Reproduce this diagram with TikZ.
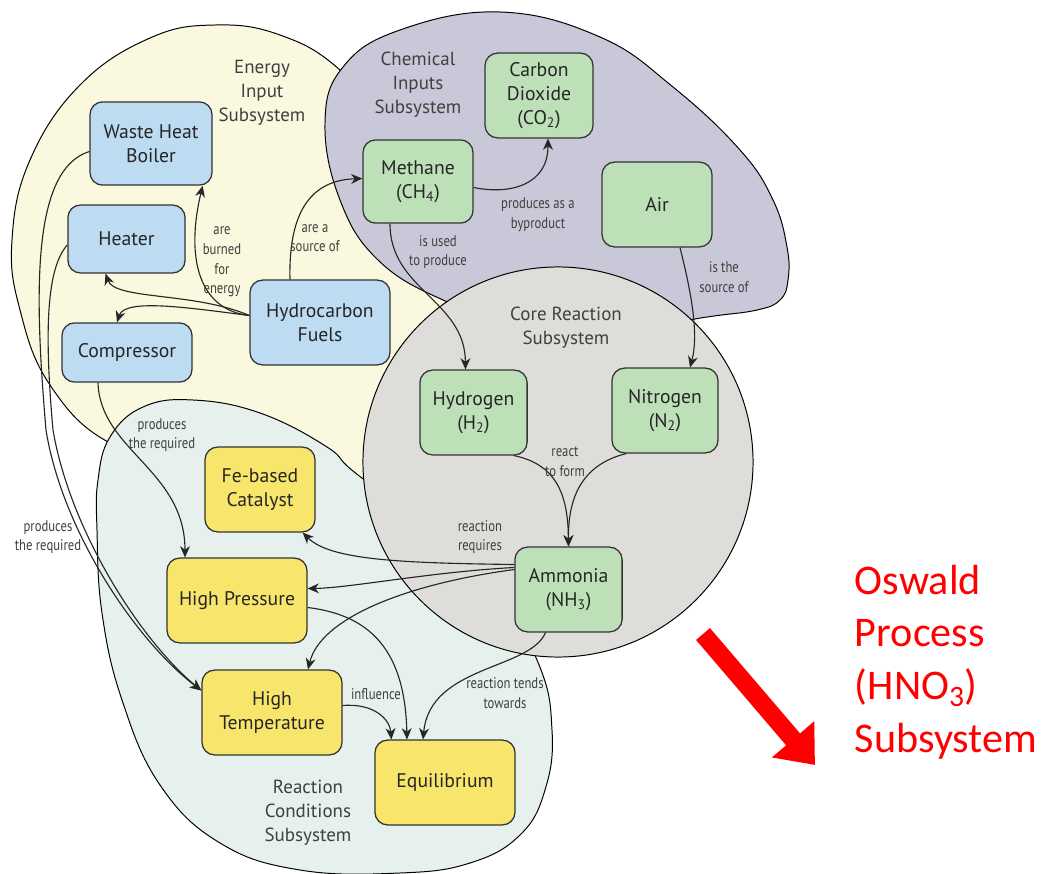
\documentclass[tikz,border=0pt]{standalone}
\usepackage{fontspec}
\setmainfont{PT Sans}
\newfontfamily\linkfont[FakeStretch=0.82]{PT Sans}
\newfontfamily\notefont{Carlito}
\usetikzlibrary{arrows.meta}

\definecolor{energybg}{HTML}{FAF8DE}
\definecolor{chembg}{HTML}{C9C8D8}
\definecolor{corebg}{HTML}{DEDDDA}
\definecolor{condbg}{HTML}{E6F0EC}
\definecolor{bluebox}{HTML}{BDDCF2}
\definecolor{greenbox}{HTML}{BEE0B9}
\definecolor{yellowbox}{HTML}{F8E66C}

\begin{document}
\begin{tikzpicture}[x=0.025cm, y=-0.025cm,
	every node/.style={font=\fontsize{14}{17}\selectfont, text=black!85},
	box/.style={draw=black!80, line width=0.9pt, rounded corners=9pt, align=center, inner sep=0pt, minimum height=2.12cm},
	energy/.style={box, fill=bluebox},
	chem/.style={box, fill=greenbox},
	cond/.style={box, fill=yellowbox},
	link/.style={->, line width=0.8pt, black!85},
	>={Stealth[length=8pt,width=7pt,inset=2.5pt]},
	lbl/.style={font=\linkfont\fontsize{11}{14}\selectfont, align=center, text=black!75},
	title/.style={font=\fontsize{13.5}{17}\selectfont, align=center, text=black!75},
	region/.style={draw=black, line width=0.7pt}]
	\useasboundingbox (0,0) rectangle (1047,874);

	% subsystem regions, back to front
	\draw[region, fill=energybg] plot[smooth cycle, tension=0.7] coordinates {(110,443) (50,385) (20,310) (12,240) (30,160) (80,85) (150,38) (215,25) (280,35) (340,70) (400,140) (455,230) (460,330) (420,450) (370,495) (300,480) (200,465)};
	\draw[region, fill=chembg] plot[smooth cycle, tension=0.7] coordinates {(443,300) (378,260) (340,200) (325,123) (343,67) (400,30) (500,12) (600,37) (673,87) (740,150) (773,200) (787,247) (788,280) (780,300) (757,310) (707,317) (620,330) (520,325)};
	\draw[region, fill=condbg] plot[smooth cycle, tension=0.7] coordinates {(362,478) (327,447) (260,413) (193,400) (143,407) (110,437) (98,480) (97,530) (102,613) (122,700) (160,785) (220,843) (300,870) (400,873) (470,863) (520,835) (545,790) (552,730) (537,660) (480,560)};
	\draw[region, fill=corebg] (558,462) circle [radius=4.875cm];

	\node[title] (entitle) at (262,93) {Energy\\Input\\Subsystem};
	\node[title] (chtitle) at (418,85) {Chemical\\Inputs\\Subsystem};
	\node[title] (cotitle) at (566,328) {Core Reaction\\Subsystem};
	\node[title] (rctitle) at (308,813) {Reaction\\Conditions\\Subsystem};

	% energy input
	\node[energy, minimum width=3.05cm, minimum height=2.08cm] (wh) at (151,143.5) {Waste Heat\\Boiler};
	\node[energy, minimum width=2.93cm, minimum height=1.7cm] (heat) at (126.5,239) {Heater};
	\node[energy, minimum width=3.25cm, minimum height=1.48cm] (comp) at (127,352.5) {Compressor};
	\node[energy, minimum width=3.5cm] (hf) at (320,322.5) {Hydrocarbon\\Fuels};

	% chemical inputs and core reaction
	\node[chem, minimum width=2.75cm, minimum height=2.08cm] (meth) at (418,181.5) {Methane\\(CH\textsubscript{4})};
	\node[chem, minimum width=2.7cm] (co2) at (539,95.5) {Carbon\\Dioxide\\(CO\textsubscript{2})};
	\node[chem, minimum width=2.75cm] (air) at (657,204.5) {Air};
	\node[chem, minimum width=2.68cm] (hyd) at (473.5,412.5) {Hydrogen\\(H\textsubscript{2})};
	\node[chem, minimum width=2.65cm] (nit) at (665,410.5) {Nitrogen\\(N\textsubscript{2})};
	\node[chem, minimum width=2.68cm] (amm) at (568.5,589.5) {Ammonia\\(NH\textsubscript{3})};

	% reaction conditions
	\node[cond, minimum width=2.75cm] (cat) at (260,489.5) {Fe-based\\Catalyst};
	\node[cond, minimum width=3.5cm] (hp) at (237,600.5) {High Pressure};
	\node[cond, minimum width=3.5cm] (ht) at (272,712.5) {High\\Temperature};
	\node[cond, minimum width=3.5cm] (eq) at (445,782.5) {Equilibrium};

	% connectors
	\draw[link] ([shift={(0,-7)}]hf.west) .. controls (200,310) and (185,260) .. ([shift={(-10,0)}]wh.south east);
	\draw[link] ([shift={(0,-7)}]hf.west) .. controls (195,292) and (115,300) .. ([shift={(-21,0)}]heat.south);
	\draw[link] ([shift={(0,-7)}]hf.west) .. controls (190,308) and (125,298) .. ([shift={(-10,0)}]comp.north);
	\draw[link] ([shift={(-30,0)}]hf.north) .. controls (288,200) and (320,180) .. ([shift={(0,-3)}]meth.west);
	\draw[link] ([shift={(-28,0)}]meth.south) .. controls (390,290) and (465,300) .. ([shift={(-8,0)}]hyd.north);
	\draw[link] ([shift={(0,6)}]meth.east) .. controls (510,195) and (548,185) .. ([shift={(9,0)}]co2.south);
	\draw[link] ([shift={(23,0)}]air.south) .. controls (688,280) and (700,330) .. ([shift={(25,0)}]nit.north);
	\draw[link] ([shift={(-14,0)}]hyd.south east) .. controls (560,465) and (568,500) .. (amm.north);
	\draw[link] ([shift={(15,0)}]nit.south west) .. controls (580,465) and (568,500) .. (amm.north);
	\draw[link] ([shift={(0,-25)}]amm.west) .. controls (400,563) and (330,560) .. ([shift={(-13,0)}]cat.south east);
	\draw[link] ([shift={(0,-22)}]amm.west) .. controls (430,572) and (350,588) .. ([shift={(0,-12)}]hp.east);
	\draw[link] ([shift={(0,-20)}]amm.west) .. controls (400,585) and (320,620) .. ([shift={(36,0)}]ht.north);
	\draw[link] ([shift={(-23,0)}]amm.south) .. controls (530,670) and (430,665) .. ([shift={(-22,0)}]eq.north);
	\draw[link] ([shift={(0,7)}]hp.east) .. controls (370,615) and (405,650) .. ([shift={(-38,0)}]eq.north);
	\draw[link] ([shift={(0,-7)}]ht.east) .. controls (375,703) and (390,720) .. ([shift={(17,0)}]eq.north west);
	\draw[link] ([shift={(-29,0)}]comp.south) .. controls (100,450) and (185,470) .. ([shift={(-52,0)}]hp.north);
	\draw[link] ([shift={(0,8)}]wh.west) .. controls (30,170) and (35,300) .. (46,430) .. controls (62,530) and (135,640) .. ([shift={(0,-22)}]ht.west);
	\draw[link] ([shift={(0,6)}]heat.west) .. controls (45,270) and (45,340) .. (53,430) .. controls (70,530) and (140,640) .. ([shift={(0,-22)}]ht.west);

	% connector labels
	\node[lbl] (l1) at (222,262) {are\\burned\\for\\energy};
	\node[lbl] (l2) at (315,238) {are a\\source of};
	\node[lbl] (l3) at (438,252) {is used\\to produce};
	\node[lbl] (l4) at (538,215) {produces as a\\byproduct};
	\node[lbl] (l5) at (724,277) {is the\\source of};
	\node[lbl] (l6) at (565,462) {react\\to form};
	\node[lbl] (l7) at (480,537) {reaction\\requires};
	\node[lbl] (l8) at (162,435) {produces\\the required};
	\node[lbl] (l9) at (48,537) {produces\\the required};
	\node[lbl] (l10) at (376,694) {influence};
	\node[lbl] (l11) at (505,693) {reaction tends\\towards};

	% next subsystem
	\coordinate (osfrom) at (703,634);
	\coordinate (osto) at (815,765);
	\draw[red, line width=13pt, -{Triangle[length=24pt,width=38pt]}] (osfrom) -- (osto);
	\node[anchor=west, align=left, text=red, font=\notefont\fontsize{30}{37.5}\selectfont] (oswald) at (850,662) {Oswald\\Process\\(HNO\textsubscript{3})\\Subsystem};
\end{tikzpicture}
\end{document}
